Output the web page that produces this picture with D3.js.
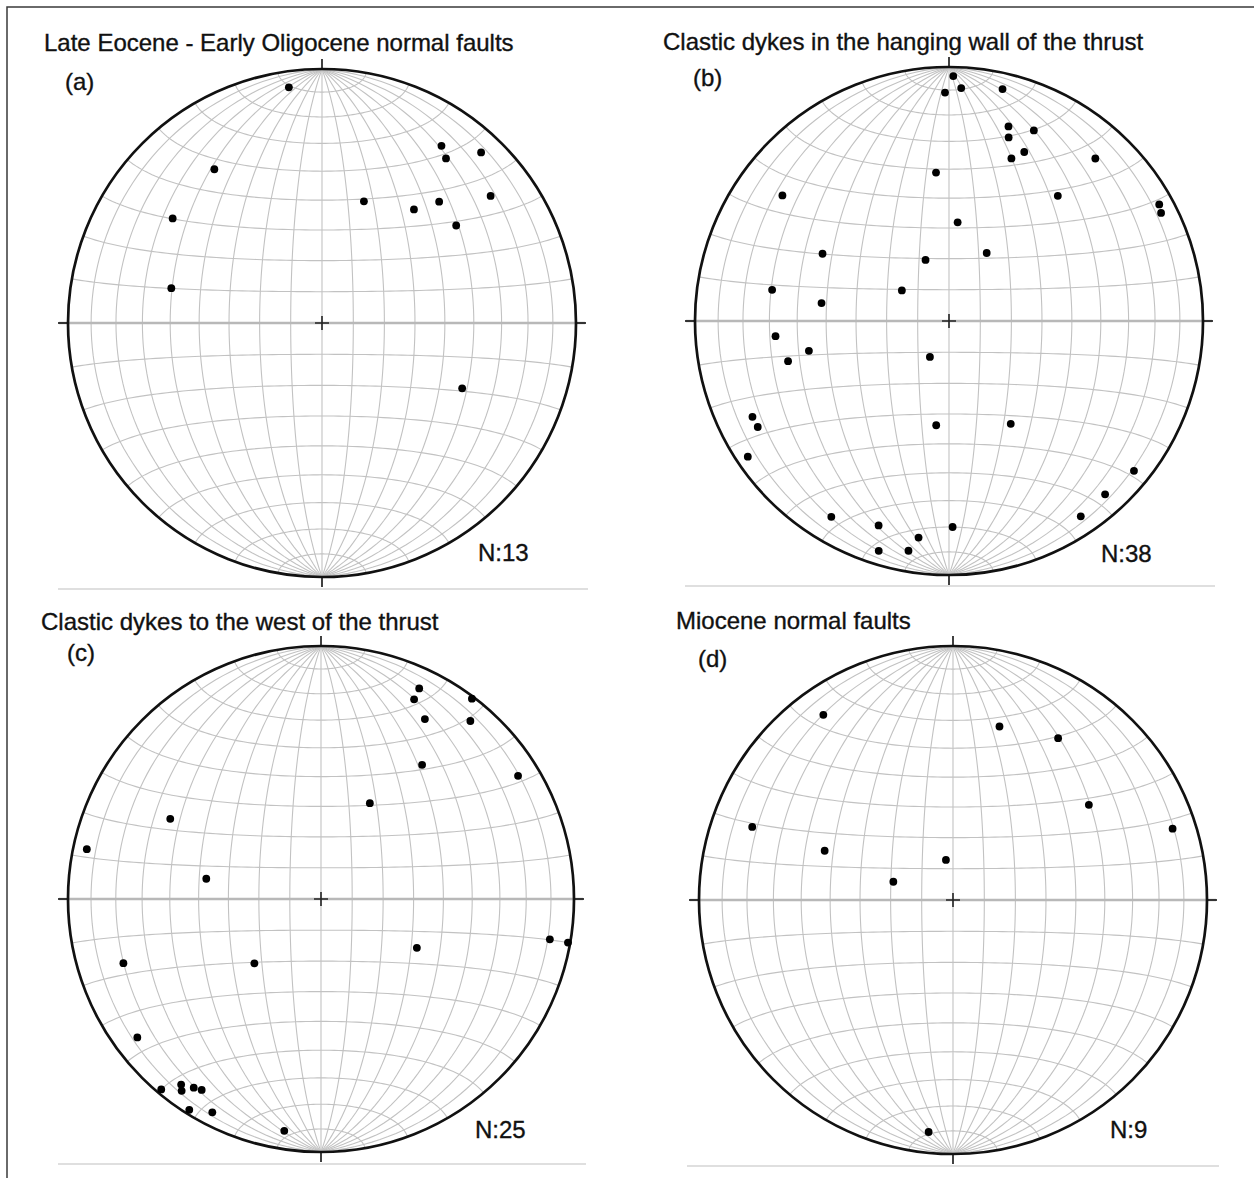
<!DOCTYPE html>
<html>
<head>
<meta charset="utf-8">
<script src="https://cdn.jsdelivr.net/npm/d3@7"></script>
<style>
body { margin: 0; background: #fff; }
svg { display: block; font-family: "Liberation Sans", Arial, Helvetica, sans-serif; }
</style>
</head>
<body>
<div id="chart"></div>
<script>
// panel texts
const titles = [
    "Late Eocene - Early Oligocene normal faults",
    "Clastic dykes in the hanging wall of the thrust",
    "Clastic dykes to the west of the thrust",
    "Miocene normal faults"
];
const letters = ["(a)", "(b)", "(c)", "(d)"];
const counts = ["N:13", "N:38", "N:25", "N:9"];

// poles as [trend, plunge] in degrees, lower hemisphere
const polesA = [[352, 7], [34, 17], [37, 20], [43, 9], [325, 27], [19, 48], [39, 42],
    [44, 34], [53, 18], [54, 35], [305, 29], [283, 39], [115, 39]];
const polesB = [[1, 4], [359, 11], [3, 9], [13, 7], [17, 21], [18, 25], [24, 19], [24, 28],
    [21, 32], [42, 15], [355, 41], [307, 19], [41, 35], [61, 6], [63, 7], [5, 58], [298, 43],
    [29, 65], [339, 69], [280, 30], [303, 72], [278, 48], [265, 32], [258, 43], [256, 35],
    [208, 77], [244, 15], [241, 15], [187, 56], [149, 51], [236, 5], [129, 7], [138, 9],
    [146, 8], [211, 11], [199, 16], [188, 15], [179, 20], [197, 6], [190, 9]];
const polesC = [[25, 9], [25, 14], [37, 1], [30, 19], [40, 9], [37, 34], [58, 9], [27, 55],
    [298, 33], [282, 6], [280, 52], [117, 55], [100, 9], [100, 1], [252, 19], [226, 60],
    [233, 10], [220, 2], [216, 7], [217, 9], [214, 11], [212, 12], [212, 2], [207, 6], [189, 8]];
const polesD = [[325, 12], [15, 30], [33, 25], [55, 35], [290, 17], [72, 10], [291, 45],
    [350, 77], [287, 70], [186, 9]];
const poles = [polesA, polesB, polesC, polesD];

// grid steps of the schmidt net
const gridStep = 10;

// layout of the four nets
const width = 1254;
const height = 1178;
const nets = [
    {cx: 322, cy: 323, r: 254, title: [44, 51], letter: [65, 90], count: [478, 561], rule: [58, 588, 589]},
    {cx: 949, cy: 321, r: 254, title: [663, 50], letter: [693, 86], count: [1101, 562], rule: [685, 1215, 586]},
    {cx: 321, cy: 899, r: 253, title: [41, 630], letter: [67, 661], count: [475, 1138], rule: [58, 586, 1164]},
    {cx: 953, cy: 900, r: 254, title: [676, 629], letter: [698, 667], count: [1110, 1138], rule: [687, 1219, 1166]}
];

const svg = d3.select("#chart")
    .append("svg")
    .attr("width", width)
    .attr("height", height);

// frame on top and left
svg.append("path")
    .attr("d", `M7,${height} L7,7 L${width},7`)
    .attr("fill", "none")
    .attr("stroke", "#3a3a3a")
    .attr("stroke-width", 1.5);

// trend / plunge -> lon / lat on the equatorial lambert net
function toLonLat(d) {
    const t = d[0] * Math.PI / 180;
    const p = d[1] * Math.PI / 180;
    const lat = Math.asin(Math.cos(p) * Math.cos(t));
    const lon = Math.atan2(Math.cos(p) * Math.sin(t), Math.sin(p));
    return [lon * 180 / Math.PI, lat * 180 / Math.PI];
}

// meridians (great circles) and parallels (small circles)
const grid = [];
d3.range(-90 + gridStep, 90, gridStep).forEach(lon => {
    grid.push({type: "LineString", coordinates: d3.range(-90, 90.01, 2).map(lat => [lon, lat])});
});
d3.range(-90 + gridStep, 90, gridStep).filter(lat => lat !== 0).forEach(lat => {
    grid.push({type: "LineString", coordinates: d3.range(-90, 90.01, 2).map(lon => [lon, lat])});
});

nets.forEach((n, i) => {
    const projection = d3.geoAzimuthalEqualArea()
        .scale(n.r / Math.SQRT2)
        .translate([n.cx, n.cy])
        .precision(0.1);
    const path = d3.geoPath().projection(projection);

    const g = svg.append("g");

    g.selectAll("path.grid")
        .data(grid)
        .enter().append("path")
        .attr("class", "grid")
        .attr("d", path)
        .attr("fill", "none")
        .attr("stroke", "#c2c2c2")
        .attr("stroke-width", 1.1);

    // horizontal diameter, a bit heavier and running past the primitive
    const w = projection([-90, 0]);
    const e = projection([90, 0]);
    g.append("line")
        .attr("x1", w[0] - 9).attr("x2", e[0] + 9)
        .attr("y1", n.cy).attr("y2", n.cy)
        .attr("stroke", "#b8b8b8")
        .attr("stroke-width", 2.4);

    // primitive circle
    g.append("circle")
        .attr("cx", n.cx).attr("cy", n.cy).attr("r", n.r)
        .attr("fill", "none")
        .attr("stroke", "#111")
        .attr("stroke-width", 2.7);

    // ticks at N, S, E, W
    const nPt = projection([0, 90]);
    const sPt = projection([0, -90]);
    const ticks = [
        [nPt[0], nPt[1] - 10, nPt[0], nPt[1]],
        [sPt[0], sPt[1], sPt[0], sPt[1] + 10],
        [w[0] - 10, w[1], w[0], w[1]],
        [e[0], e[1], e[0] + 10, e[1]]
    ];
    g.selectAll("line.tick")
        .data(ticks)
        .enter().append("line")
        .attr("class", "tick")
        .attr("x1", d => d[0]).attr("y1", d => d[1])
        .attr("x2", d => d[2]).attr("y2", d => d[3])
        .attr("stroke", "#111")
        .attr("stroke-width", 1.6);

    // centre cross
    g.append("path")
        .attr("d", `M${n.cx - 7},${n.cy} H${n.cx + 7} M${n.cx},${n.cy - 7} V${n.cy + 7}`)
        .attr("stroke", "#222")
        .attr("stroke-width", 1.6);

    // poles
    g.selectAll("circle.pole")
        .data(poles[i])
        .enter().append("circle")
        .attr("class", "pole")
        .attr("cx", d => projection(toLonLat(d))[0])
        .attr("cy", d => projection(toLonLat(d))[1])
        .attr("r", 3.9)
        .attr("fill", "#000");

    // texts
    const labels = [[n.title, titles[i]], [n.letter, letters[i]], [n.count, counts[i]]];
    g.selectAll("text")
        .data(labels)
        .enter().append("text")
        .attr("x", d => d[0][0]).attr("y", d => d[0][1])
        .attr("font-size", 24)
        .attr("fill", "#111")
        .attr("stroke", "#111")
        .attr("stroke-width", 0.35)
        .text(d => d[1]);

    // light rule under the net
    g.append("line")
        .attr("x1", n.rule[0]).attr("x2", n.rule[1])
        .attr("y1", n.rule[2]).attr("y2", n.rule[2])
        .attr("stroke", "#d4d4d4")
        .attr("stroke-width", 1.5);
});
</script>
</body>
</html>
